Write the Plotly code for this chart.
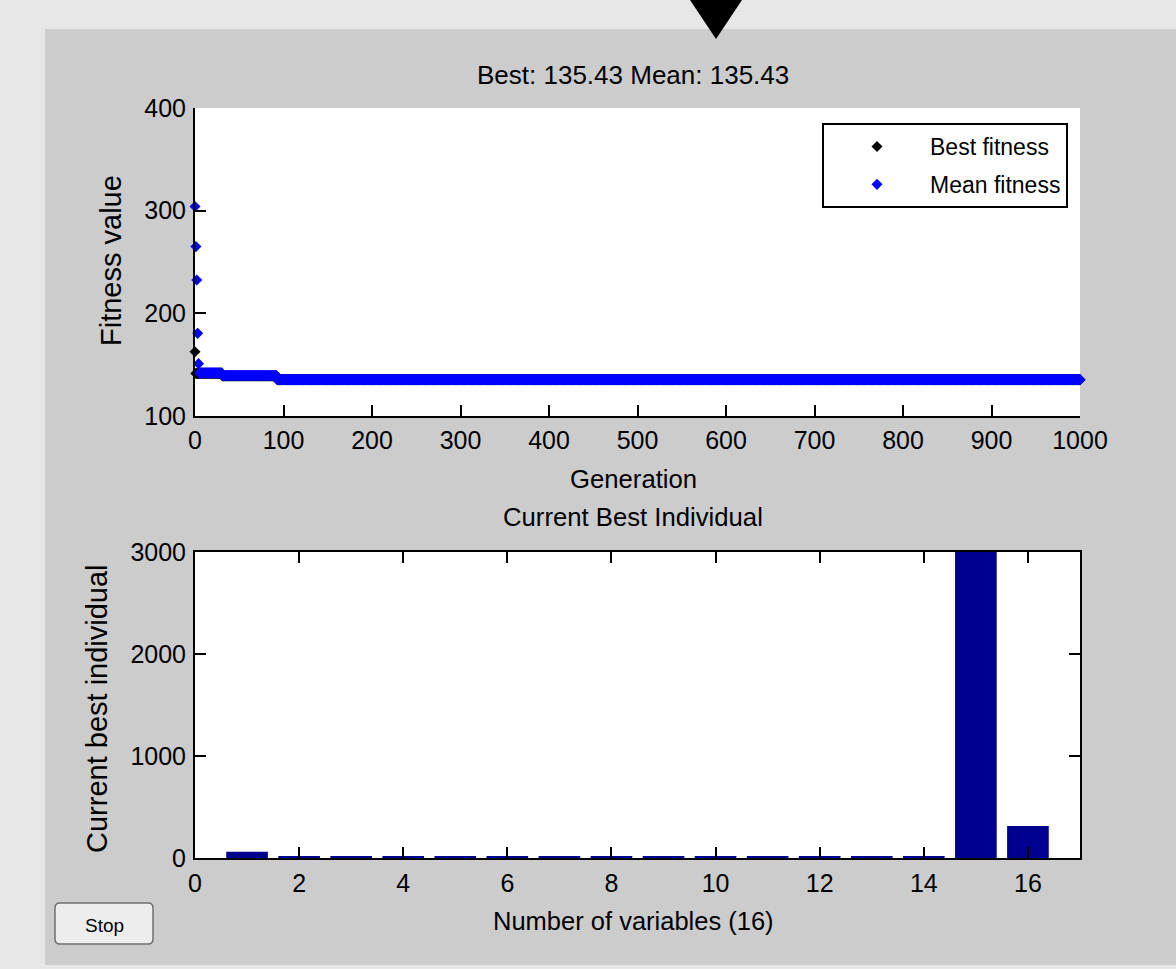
import numpy as np
import plotly.graph_objects as go

# ---------------- data ----------------
# Best fitness per generation, stored as runs (first gen, last gen, value)
best_run_start = [0, 1, 31, 93]
best_run_end = [0, 30, 92, 1000]
best_run_value = [162.6, 141.5, 139.0, 135.43]

# Mean fitness per generation, stored as runs (first gen, last gen, value)
mean_run_start = [0, 1, 2, 3, 4, 5, 31, 93]
mean_run_end = [0, 1, 2, 3, 4, 30, 92, 1000]
mean_run_value = [304.0, 265.0, 232.5, 180.5, 151.0, 142.0, 139.5, 135.43]

# Current best individual (16 variables)
var_index = list(range(1, 17))
var_value = [62, 20, 20, 20, 20, 20, 20, 20, 20, 20, 20, 20, 20, 20, 3000, 313]

gen_ticks = [0, 100, 200, 300, 400, 500, 600, 700, 800, 900, 1000]
fit_ticks = [100, 200, 300, 400]
var_ticks = [0, 2, 4, 6, 8, 10, 12, 14, 16]
ind_ticks = [0, 1000, 2000, 3000]

title_top = "Best: 135.43 Mean: 135.43"
title_bottom = "Current Best Individual"


def expand(starts, ends, values):
    xs, ys = [], []
    for s, e, v in zip(starts, ends, values):
        g = np.arange(s, e + 1)
        xs.append(g)
        ys.append(np.full(len(g), v))
    return np.concatenate(xs), np.concatenate(ys)


best_x, best_y = expand(best_run_start, best_run_end, best_run_value)
mean_x, mean_y = expand(mean_run_start, mean_run_end, mean_run_value)

# ---------------- layout geometry ----------------
W, H = 1176, 969
L, R, T, B = 195, 96, 108, 111
PW, PH = W - L - R, H - T - B


def px(x):
    return (x - L) / PW


def py(y):
    return (H - B - y) / PH


FONT = "Liberation Sans, Arial, Helvetica, sans-serif"
TXT = "#000000"

fig = go.Figure()

fig.add_trace(go.Scatter(
    x=best_x, y=best_y, mode="markers", name="Best fitness", legendgroup="best",
    marker=dict(symbol="diamond", size=8.5, color="#000000"),
    cliponaxis=False, xaxis="x", yaxis="y"))
fig.add_trace(go.Scatter(
    x=mean_x, y=mean_y, mode="markers", name="Mean fitness", legendgroup="mean",
    marker=dict(symbol="diamond", size=8.5, color="#0000FF"),
    cliponaxis=False, xaxis="x", yaxis="y"))
fig.add_trace(go.Bar(
    x=var_index, y=var_value, width=0.8, showlegend=False,
    marker=dict(color="#00008F", line=dict(width=0)),
    xaxis="x2", yaxis="y2"))

axis_common = dict(
    showline=True, linecolor="#000000", linewidth=2,
    ticks="inside", ticklen=11, tickwidth=1.5, tickcolor="#000000",
    showgrid=False, zeroline=False,
    tickfont=dict(family=FONT, size=25, color=TXT),
)

top_dom = [py(416), 1.0]
bot_dom = [0.0, py(552)]

fig.update_layout(
    width=W, height=H,
    margin=dict(l=L, r=R, t=T, b=B, pad=0),
    paper_bgcolor="#CCCCCC",
    plot_bgcolor="#FFFFFF",
    font=dict(family=FONT, size=25, color=TXT),
    xaxis=dict(axis_common, domain=[0, 1], range=[0, 1000], tickvals=gen_ticks,
               anchor="y", mirror=False, ticklabelstandoff=1),
    yaxis=dict(axis_common, domain=top_dom, range=[100, 400], tickvals=fit_ticks,
               anchor="x", mirror=False, ticklabelstandoff=2),
    xaxis2=dict(axis_common, domain=[0, 1], range=[0, 17], tickvals=var_ticks,
                anchor="y2", mirror="ticks", ticklabelstandoff=2),
    yaxis2=dict(axis_common, domain=bot_dom, range=[0, 3000], tickvals=ind_ticks,
                anchor="x2", mirror="ticks", ticklabelstandoff=2),
    legend=dict(
        x=px(822), y=py(123), xanchor="left", yanchor="top",
        bgcolor="#FFFFFF", bordercolor="#000000", borderwidth=2,
        font=dict(family=FONT, size=23, color=TXT),
        itemwidth=96, tracegroupgap=5,
        entrywidth=140, entrywidthmode="pixels",
    ),
    showlegend=True,
)

shapes = []
# light outer frame around the grey panel
for x0, y0, x1, y1 in [(0, 0, W, 29), (0, 0, 45, H), (0, 965, W, H)]:
    shapes.append(dict(type="rect", xref="paper", yref="paper",
                       x0=px(x0), x1=px(x1), y0=py(y1), y1=py(y0),
                       fillcolor="#E6E6E6", line=dict(width=0), layer="below"))
# black pointer triangle at top
shapes.append(dict(type="path", xref="paper", yref="paper",
                   path=f"M {px(690)},{py(0)} L {px(742)},{py(0)} L {px(716)},{py(39)} Z",
                   fillcolor="#000000", line=dict(width=0)))
# Stop button
bx0, bx1, by0, by1, rr = 55, 153, 903, 944, 5
p = (f"M {px(bx0+rr)},{py(by0)} L {px(bx1-rr)},{py(by0)} "
     f"Q {px(bx1)},{py(by0)} {px(bx1)},{py(by0+rr)} L {px(bx1)},{py(by1-rr)} "
     f"Q {px(bx1)},{py(by1)} {px(bx1-rr)},{py(by1)} L {px(bx0+rr)},{py(by1)} "
     f"Q {px(bx0)},{py(by1)} {px(bx0)},{py(by1-rr)} L {px(bx0)},{py(by0+rr)} "
     f"Q {px(bx0)},{py(by0)} {px(bx0+rr)},{py(by0)} Z")
shapes.append(dict(type="path", xref="paper", yref="paper", path=p,
                   fillcolor="#EDEDED", line=dict(color="#707070", width=1.5)))
fig.update_layout(shapes=shapes)


def ann(text, x, y, size=25, angle=0):
    return dict(text=text, xref="paper", yref="paper", x=px(x), y=py(y),
                xanchor="center", yanchor="middle", showarrow=False,
                textangle=angle, font=dict(family=FONT, size=size, color=TXT))


fig.update_layout(annotations=[
    ann(title_top, 633, 75, size=26),
    ann("Generation", 633, 479, size=25.7),
    ann("Fitness value", 111, 261, size=29, angle=-90),
    ann(title_bottom, 633, 517, size=25.7),
    ann("Current best individual", 97, 709, size=29, angle=-90),
    ann("Number of variables (16)", 633, 921, size=25.5),
    ann("Stop", 104, 925, size=19),
])

fig.write_html(
    "out.html",
    config={"displayModeBar": False},
    post_script="document.body.style.margin='0';document.body.style.overflow='hidden';",
)
